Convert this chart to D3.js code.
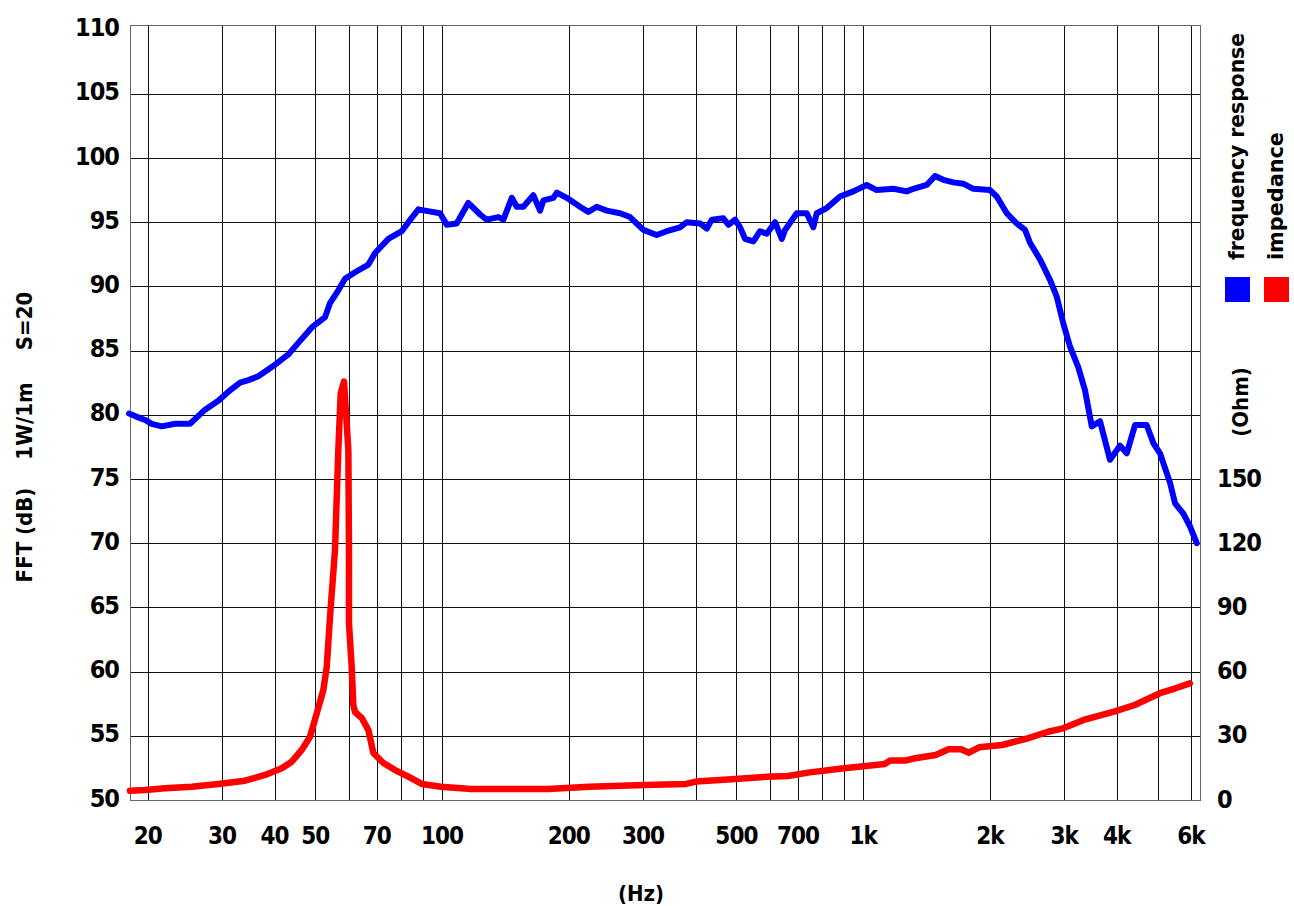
<!DOCTYPE html>
<html>
<head>
<meta charset="utf-8">
<script src="https://cdn.jsdelivr.net/npm/d3@7"></script>
<style>
  body { margin: 0; background: #fff; }
  text { font-family: "DejaVu Sans Condensed", "DejaVu Sans", sans-serif; font-weight: bold; fill: #000; }
</style>
</head>
<body>
<svg id="chart" width="1294" height="906"></svg>
<script>
// frequency response (dB SPL, 1W/1m)
const respFreq = [18.06, 18.66, 19.71, 20.44, 21.59, 23.22, 25.2, 27.36, 29.42, 31.08, 33.13, 34.67, 36.61, 40.12, 43.14, 45.56, 49.04, 52.72, 54.19, 56.7, 58.82, 62.13, 66.83, 69.32, 74.55, 80.22, 83.17, 87.83, 91.1, 98.9, 102.6, 108.3, 115.4, 123.1, 127.6, 136, 139.8, 146.4, 150.4, 156, 164.7, 170.9, 174, 183.8, 187.3, 197.7, 212.6, 222.5, 233, 246, 264.6, 279.5, 300.6, 323.3, 341.6, 367.4, 381.1, 409.9, 425.2, 437, 465.6, 478.5, 496.4, 510.2, 524.3, 548.6, 569.1, 590.2, 617.7, 640.8, 652.4, 695.5, 734.5, 761.4, 775.7, 819.4, 881, 947.5, 1019.6, 1077, 1179.4, 1269, 1315.6, 1415.6, 1481.3, 1550, 1637, 1729, 1826, 2001, 2076, 2193, 2315, 2423, 2490, 2630, 2778, 2882, 2988, 3099, 3243, 3364, 3490, 3652, 3752, 3856, 4074, 4226, 4422, 4712, 4887, 5069, 5355, 5504, 5759, 5974, 6197];
const respDb = [80.1, 79.9, 79.6, 79.3, 79.1, 79.3, 79.3, 80.4, 81.1, 81.8, 82.5, 82.7, 83.0, 83.9, 84.7, 85.6, 86.8, 87.6, 88.7, 89.7, 90.6, 91.1, 91.7, 92.6, 93.7, 94.3, 95.0, 96.0, 95.9, 95.7, 94.8, 94.9, 96.5, 95.6, 95.2, 95.4, 95.2, 96.9, 96.2, 96.2, 97.1, 95.9, 96.7, 96.9, 97.3, 96.9, 96.2, 95.8, 96.2, 95.9, 95.7, 95.4, 94.4, 94.0, 94.3, 94.6, 95.0, 94.9, 94.5, 95.2, 95.3, 94.8, 95.2, 94.6, 93.7, 93.5, 94.3, 94.1, 95.0, 93.7, 94.4, 95.7, 95.7, 94.6, 95.7, 96.1, 97.0, 97.4, 97.9, 97.5, 97.6, 97.4, 97.6, 97.9, 98.6, 98.3, 98.1, 98.0, 97.6, 97.5, 97.0, 95.7, 94.9, 94.4, 93.4, 92.1, 90.5, 89.2, 87.1, 85.3, 83.7, 81.9, 79.1, 79.5, 78.0, 76.5, 77.6, 77.0, 79.2, 79.2, 77.8, 77.0, 74.7, 73.1, 72.3, 71.3, 70.0];

// impedance (Ohm)
const impFreq = [18.15, 19.71, 21.99, 25.44, 29.42, 34.05, 37.98, 41.62, 43.95, 46.42, 48.58, 50.39, 52.24, 53.22, 54.19, 55.68, 56.7, 57.45, 58.5, 59.9, 60.1, 60.1, 61.0, 61.55, 62.13, 64.45, 66.83, 68.66, 72.53, 77.33, 83.17, 89.47, 99.4, 117.2, 178.5, 223.4, 303.4, 379.6, 401, 487.2, 591.1, 663.1, 739.6, 900.6, 1125, 1157, 1257, 1328, 1487, 1595, 1708, 1784, 1884, 2137, 2458, 2748, 2983, 3340, 3942, 4414, 5069, 5517, 5967];
const impOhm = [4.3, 4.7, 5.5, 6.2, 7.5, 9.0, 11.7, 14.8, 17.9, 23.4, 29.6, 40.5, 51.4, 62.3, 85.7, 116.8, 163.6, 190.0, 195.5, 163.6, 116.8, 82.7, 62.3, 44.4, 41.1, 38.3, 32.7, 22.0, 17.3, 14.0, 10.9, 7.5, 6.2, 5.1, 5.1, 6.2, 7.0, 7.5, 8.6, 9.7, 10.9, 11.2, 12.8, 14.8, 16.8, 18.4, 18.4, 19.5, 21.0, 23.7, 23.7, 22.1, 24.6, 25.7, 28.8, 31.9, 33.5, 37.4, 41.3, 44.4, 49.9, 52.2, 54.5];

const gridFreqs = [20, 30, 40, 50, 60, 70, 80, 90, 100, 200, 300, 400, 500, 600, 700, 800, 900, 1000, 2000, 3000, 4000, 5000, 6000];
const freqLabelValues = [20, 30, 40, 50, 70, 100, 200, 300, 500, 700, 1000, 2000, 3000, 4000, 6000];
const freqLabels = ["20", "30", "40", "50", "70", "100", "200", "300", "500", "700", "1k", "2k", "3k", "4k", "6k"];
const dbTicks = [50, 55, 60, 65, 70, 75, 80, 85, 90, 95, 100, 105, 110];
const ohmTicks = [0, 30, 60, 90, 120, 150];

const svg = d3.select("#chart");
const plotL = 130, plotR = 1200, plotT = 25, plotB = 800;

const x = d3.scaleLog().domain([18.15, 6308]).range([plotL, plotR]);
const y = d3.scaleLinear().domain([50, 110]).range([plotB, 29.6]);
const yOhm = d3.scaleLinear().domain([0, 360]).range([plotB, 29.6]);

const crisp = v => Math.round(v) + 0.5;

// grid
const grid = svg.append("g").attr("shape-rendering", "crispEdges");
grid.selectAll("line.v").data(gridFreqs).join("line")
  .attr("class", "v")
  .attr("x1", d => crisp(x(d))).attr("x2", d => crisp(x(d)))
  .attr("y1", plotT).attr("y2", plotB)
  .attr("stroke", "#111").attr("stroke-width", 1);
grid.selectAll("line.h").data(dbTicks.filter(d => d > 50 && d < 110)).join("line")
  .attr("class", "h")
  .attr("x1", plotL).attr("x2", plotR)
  .attr("y1", d => crisp(y(d))).attr("y2", d => crisp(y(d)))
  .attr("stroke", "#111").attr("stroke-width", 1);
grid.append("rect")
  .attr("x", plotL + 0.5).attr("y", plotT + 0.5)
  .attr("width", plotR - plotL).attr("height", plotB - plotT)
  .attr("fill", "none").attr("stroke", "#666").attr("stroke-width", 1.5);

// curves
const respLine = d3.line().x((d, i) => x(respFreq[i])).y(d => y(d));
const impLine = d3.line().x((d, i) => x(impFreq[i])).y(d => yOhm(d));

svg.append("path").datum(impOhm).attr("d", impLine)
  .attr("fill", "none").attr("stroke", "#ff0000").attr("stroke-width", 6.5)
  .attr("stroke-linejoin", "round").attr("stroke-linecap", "round");
svg.append("path").datum(respDb).attr("d", respLine)
  .attr("fill", "none").attr("stroke", "#0000ff").attr("stroke-width", 6)
  .attr("stroke-linejoin", "round").attr("stroke-linecap", "round");

// left axis labels
svg.append("g").selectAll("text").data(dbTicks).join("text")
  .attr("x", 119).attr("y", d => y(d) - 2)
  .attr("text-anchor", "end").attr("dominant-baseline", "central")
  .attr("font-size", 25).attr("letter-spacing", -1)
  .text(d => d);

// right axis labels
svg.append("g").selectAll("text").data(ohmTicks).join("text")
  .attr("x", 1217).attr("y", d => yOhm(d) - 1)
  .attr("dominant-baseline", "central")
  .attr("font-size", 25).attr("letter-spacing", -1)
  .text(d => d);

// bottom labels
svg.append("g").selectAll("text").data(freqLabelValues).join("text")
  .attr("x", d => x(d)).attr("y", 836)
  .attr("text-anchor", "middle").attr("dominant-baseline", "central")
  .attr("font-size", 24).attr("letter-spacing", -1)
  .text((d, i) => freqLabels[i]);

svg.append("text").attr("x", 641).attr("y", 893)
  .attr("text-anchor", "middle").attr("dominant-baseline", "central")
  .attr("font-size", 22).text("(Hz)");

// left title, rotated
const leftTitle = [["FFT (dB)", 535], ["1W/1m", 421], ["S=20", 321]];
svg.append("g").selectAll("text").data(leftTitle).join("text")
  .attr("transform", d => `translate(32,${d[1]}) rotate(-90)`)
  .attr("text-anchor", "middle").attr("font-size", 22)
  .text(d => d[0]);

svg.append("text").attr("transform", "translate(1248,402) rotate(-90)")
  .attr("text-anchor", "middle").attr("font-size", 22).text("(Ohm)");

// legend
const legendNames = ["frequency response", "impedance"];
const legendColors = ["#0000ff", "#ff0000"];
const legendLen = [227, 128];
const legendX = [1244, 1283];
svg.append("g").selectAll("text").data(legendNames).join("text")
  .attr("transform", (d, i) => `translate(${legendX[i]},260) rotate(-90)`)
  .attr("font-size", 21)
  .attr("textLength", (d, i) => legendLen[i]).attr("lengthAdjust", "spacingAndGlyphs")
  .text(d => d);
svg.append("g").selectAll("rect").data(legendColors).join("rect")
  .attr("x", (d, i) => 1225 + i * 39).attr("y", 277)
  .attr("width", 25).attr("height", 25)
  .attr("fill", d => d);
</script>
</body>
</html>
